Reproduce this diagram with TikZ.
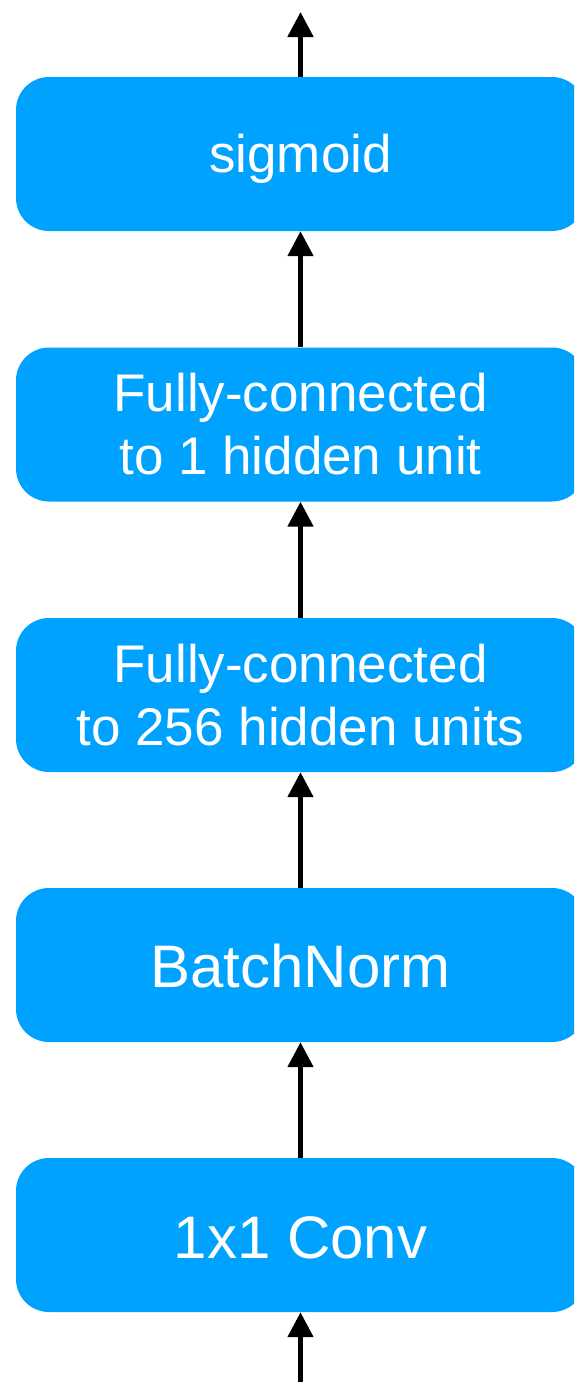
\documentclass[tikz,border=0pt]{standalone}
\usepackage{fontspec}
\setmainfont{Liberation Sans}
\usetikzlibrary{arrows.meta}
\definecolor{boxblue}{RGB}{0,162,255}
\tikzset{
  layerbox/.style={rounded corners=33pt, fill=boxblue, draw=none, text=white,
    minimum width=569pt, minimum height=154pt, inner sep=0pt, align=center},
  smallfont/.style={font=\fontsize{53}{63}\selectfont},
  bigfont/.style={font=\fontsize{60}{70}\selectfont},
  flowarrow/.style={line width=5pt, -{Triangle[width=25pt,length=25pt]}, black}
}
\begin{document}
\begin{tikzpicture}[x=1pt,y=-1pt]
\useasboundingbox (0,0) rectangle (574,1382);
\clip (0,0) rectangle (574,1382);
\node[layerbox, smallfont, text height=36pt, text depth=0pt] (b1) at (300.5,154) {sigmoid};
\node[layerbox, smallfont] (b2) at (300.5,424.5) {Fully-connected\\to 1 hidden unit};
\node[layerbox, smallfont] (b3) at (300.5,695) {Fully-connected\\to 256 hidden units};
\node[layerbox, bigfont, text height=44pt, text depth=0pt] (b4) at (300.5,965) {BatchNorm};
\node[layerbox, bigfont, text height=46pt, text depth=0pt] (b5) at (300.5,1235) {1x1 Conv};
\coordinate (top) at (300.5,12);
\coordinate (bot) at (300.5,1382);
\draw[flowarrow] (b1.north) -- (top);
\draw[flowarrow] (b2.north) -- (b1.south);
\draw[flowarrow] (b3.north) -- (b2.south);
\draw[flowarrow] (b4.north) -- (b3.south);
\draw[flowarrow] (b5.north) -- (b4.south);
\draw[flowarrow] (bot) -- (b5.south);
\end{tikzpicture}
\end{document}
